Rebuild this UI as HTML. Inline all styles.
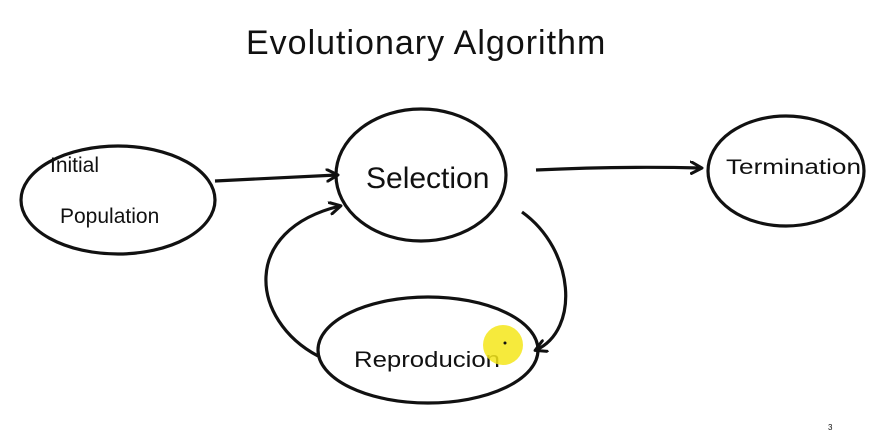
<!DOCTYPE html>
<html><head><meta charset="utf-8"><style>
html,body{margin:0;padding:0;background:#fff;}
svg{display:block;}
text{font-family:"Liberation Sans",sans-serif;fill:#111;}
</style></head><body>
<svg width="892" height="431" viewBox="0 0 892 431" xmlns="http://www.w3.org/2000/svg">
<rect width="892" height="431" fill="#fff"/>
<defs><marker id="a" markerWidth="14" markerHeight="14" refX="11" refY="7" orient="auto" markerUnits="userSpaceOnUse"><path d="M1,1 L12,7 L1,13" fill="none" stroke="#111" stroke-width="3" stroke-linecap="round" stroke-linejoin="round"/></marker></defs>
<text x="246" y="54" font-size="34" letter-spacing="1">Evolutionary  Algorithm</text>
<g fill="none" stroke="#111" stroke-width="3.2">
<ellipse cx="118" cy="200" rx="97" ry="54"/>
<ellipse cx="421" cy="175" rx="85" ry="66"/>
<ellipse cx="786" cy="171" rx="78" ry="55"/>
<ellipse cx="428" cy="350" rx="110" ry="53"/>
<path d="M215,181 L337,175" marker-end="url(#a)"/>
<path d="M536,170 Q620,166 701,168" marker-end="url(#a)"/>
<path d="M318,356 C250,320 240,230 340,206" marker-end="url(#a)"/>
<path d="M522,212 C575,250 580,330 536,350" marker-end="url(#a)"/>
</g>
<text x="50" y="172" font-size="21">Initial</text>
<text x="60" y="223" font-size="21">Population</text>
<text x="366" y="188" font-size="30">Selection</text>
<text x="726" y="174" font-size="21" textLength="135" lengthAdjust="spacingAndGlyphs">Termination</text>
<text x="354" y="367" font-size="22" textLength="146" lengthAdjust="spacingAndGlyphs">Reproducion</text>
<circle cx="503" cy="345" r="20" fill="#f5e61a" opacity="0.85"/>
<circle cx="505" cy="343" r="1.5" fill="#111"/>
<text x="828" y="430" font-size="8" fill="#666">3</text>
</svg>
</body></html>
